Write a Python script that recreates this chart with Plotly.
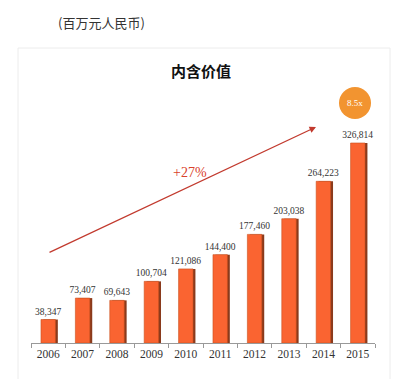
import plotly.graph_objects as go

years = ["2006", "2007", "2008", "2009", "2010", "2011", "2012", "2013", "2014", "2015"]
values = [38347, 73407, 69643, 100704, 121086, 144400, 177460, 203038, 264223, 326814]
labels = ["38,347", "73,407", "69,643", "100,704", "121,086", "144,400", "177,460", "203,038", "264,223", "326,814"]

W, H = 404, 379
L, R, T, B = 31, 29, 90, 36
pw, ph = W - L - R, H - T - B

def px(x):
    return (x - L) / pw

def py(y):
    return (H - B - y) / ph

BW = 0.42
fig = go.Figure()
fig.add_trace(go.Bar(
    x=years, y=values, width=BW, offset=-BW / 2 + 0.07,
    marker=dict(color="#8A3A1C", line=dict(width=0)), hoverinfo="skip",
))
fig.add_trace(go.Bar(
    x=years, y=values, text=labels, textposition="outside", constraintext="none",
    width=BW, offset=-BW / 2,
    textfont=dict(family="Liberation Serif", size=9.5, color="#333"),
    marker=dict(color="#FA6431", line=dict(color="#C9501F", width=0.6)),
    cliponaxis=False,
))

fig.update_layout(
    width=W, height=H, margin=dict(l=L, r=R, t=T, b=B),
    paper_bgcolor="white", plot_bgcolor="white",
    barmode="overlay", showlegend=False,
    xaxis=dict(type="category", showline=True, linecolor="#999", linewidth=1,
               ticks="outside", tickson="boundaries", ticklen=4, tickcolor="#999",
               tickfont=dict(family="Liberation Serif", size=11.5, color="#333"),
               showgrid=False),
    yaxis=dict(range=[0, 413400], visible=False, showgrid=False),
    shapes=[
        dict(type="rect", xref="paper", yref="paper", x0=px(18), x1=px(390), y0=py(385), y1=py(48),
             line=dict(color="#ececec", width=1), layer="below"),
        dict(type="circle", xref="paper", yref="paper", x0=px(339), x1=px(371), y0=py(119), y1=py(87),
             fillcolor="#F29430", line=dict(width=0)),
    ],
    annotations=[
        dict(text="(百万元人民币)", xref="paper", yref="paper", x=px(101), y=py(22), showarrow=False,
             xanchor="center", yanchor="middle",
             font=dict(family="Noto Sans CJK SC", size=13, color="#333")),
        dict(text="<b>内含价值</b>", xref="paper", yref="paper", x=px(201), y=py(70), showarrow=False,
             xanchor="center", yanchor="middle",
             font=dict(family="Noto Sans CJK SC", size=15, color="#111")),
        dict(text="", xref="paper", yref="paper", x=px(316), y=py(127), ax=48 - 316, ay=253 - 127,
             axref="pixel", ayref="pixel", showarrow=True, arrowhead=2, arrowsize=1, arrowwidth=1.3,
             arrowcolor="#C23A2E"),
        dict(text="+27%", xref="paper", yref="paper", x=px(190), y=py(172), showarrow=False,
             xanchor="center", yanchor="middle",
             font=dict(family="Liberation Serif", size=14, color="#D9412B")),
        dict(text="8.5x", xref="paper", yref="paper", x=px(355), y=py(103), showarrow=False,
             xanchor="center", yanchor="middle",
             font=dict(family="Liberation Serif", size=9, color="white")),
    ],
)

fig.write_html("out.html", config={"displayModeBar": False},
               post_script="document.body.style.margin='0';")
